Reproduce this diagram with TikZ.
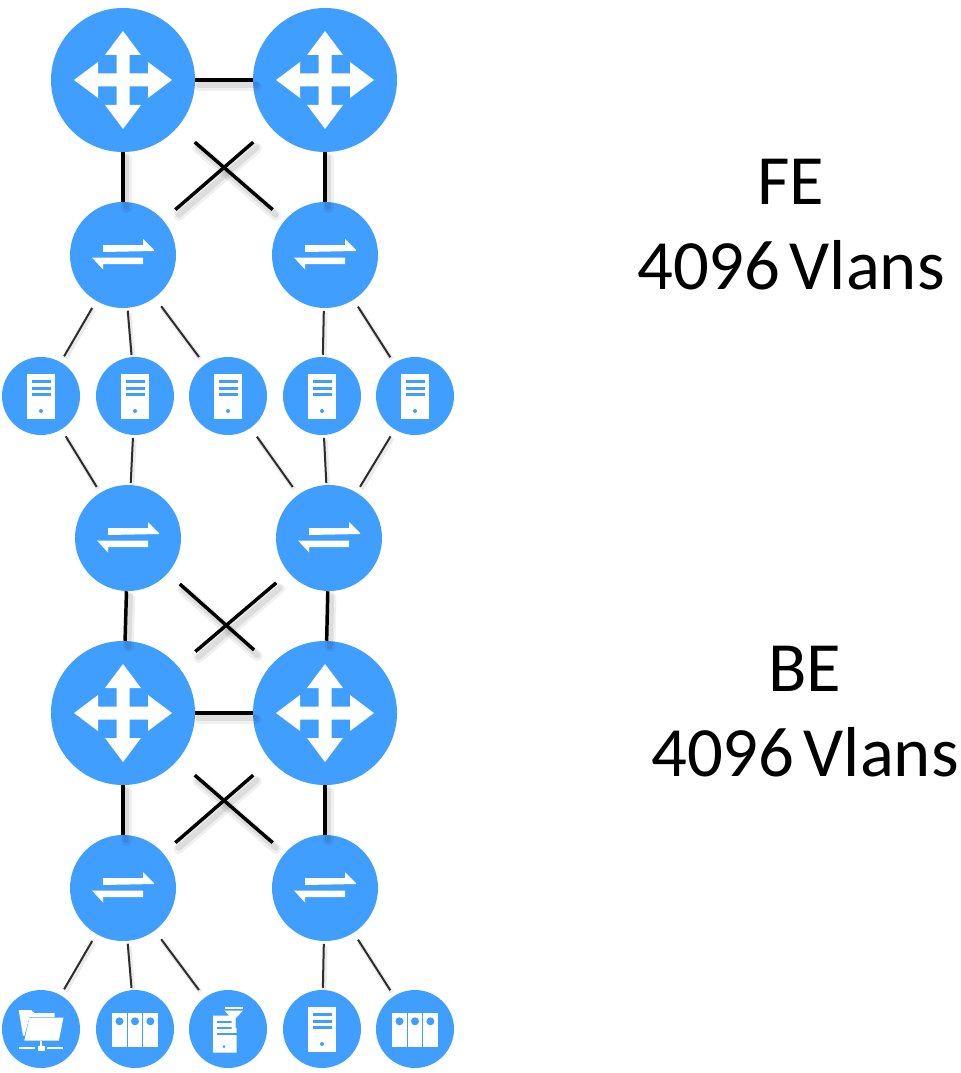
\documentclass[tikz,border=0pt]{standalone}
\usepackage{fontspec}
\setmainfont{Carlito}
\usetikzlibrary{calc}
\definecolor{netblue}{RGB}{64,158,255}
\definecolor{linkgrey}{RGB}{45,45,45}
\tikzset{
  x=0.75pt,y=-0.75pt,
  device/.style={circle,fill=netblue,inner sep=0pt,draw=none},
  routerdev/.style={device,minimum size=108pt},
  switchdev/.style={device,minimum size=79.5pt},
  hostdev/.style={device,minimum size=58.5pt},
  shade stroke/.style={preaction={draw=black,draw opacity=.06,line width=8pt,line cap=round,transform canvas={xshift=2.5pt,yshift=-4.5pt}},
                       preaction={draw=black,draw opacity=.08,line width=4.5pt,line cap=round,transform canvas={xshift=2.5pt,yshift=-4pt}}},
  thick link/.style={shade stroke,draw=black,line width=2.6pt},
  thin link/.style 2 args={draw=linkgrey,line width=1.5pt,shorten <=#1,shorten >=#2,
     preaction={draw=black,draw opacity=.08,line width=3.5pt,transform canvas={xshift=1pt,yshift=-1.5pt},shorten <=#1,shorten >=#2}},
  vlan label/.style={align=center,inner sep=0pt,font=\fontsize{53}{63.75}\selectfont,text=black},
  routericon/.pic={\fill[white] (0,-49)--(18,-25)--(6.5,-25)--(6.5,-6.5)--(25,-6.5)--(25,-18)--(49,0)--(25,18)--(25,6.5)--(6.5,6.5)--(6.5,25)--(18,25)--(0,49)--(-18,25)--(-6.5,25)--(-6.5,6.5)--(-25,6.5)--(-25,18)--(-49,0)--(-25,-18)--(-25,-6.5)--(-6.5,-6.5)--(-6.5,-25)--(-18,-25)--cycle;},
  switchicon/.pic={\fill[white] (-20,-10)--(20,-10)--(20,-16)--(31,-5)--(31,-4)--(-20,-3)--cycle;
     \fill[white] (-31,2.5)--(20,2.5)--(20,9)--(-20,9)--(-20,14.5)--cycle;},
  servericon/.pic={\fill[white] (-14,-22)rectangle(14,22.5);
     \foreach \yy in {-15,-8,-1.5}{\fill[netblue] (-9.5,\yy-1.5)rectangle(9.5,\yy+1.5);}
     \fill[netblue] (0,15) circle[radius=2];},
  storageicon/.pic={\foreach \xa/\xb in {-22.7/-8.3,-6.7/6.7,8.3/22.5}{
       \fill[white] (\xa,-16)rectangle(\xb,17.7);
       \fill[netblue] ({(\xa+\xb)/2},-7.7) circle[radius=4];}},
  foldericon/.pic={\fill[white] (-22.3,-19)--(-10,-19)--(-6.5,-16)--(13.5,-16)--(13.5,-12)--(-11.5,-12)--(-16.5,6.5)--(-18,6.5)--cycle;
     \fill[white] (-11.5,-11.5)--(22.5,-11.5)--(17.8,11.7)--(-16.7,11.7)--cycle;
     \fill[white] (-1,11.7)rectangle(1,17);
     \fill[white] (-3.5,16.5)rectangle(3.5,21.5);
     \fill[white] (-22,18.2)rectangle(-6,20.2);
     \fill[white] (6,18.2)rectangle(22,20.2);},
  filtericon/.pic={\fill[white] (-15,-13.5)--(7,-13.5)--(7,-1)--(8.5,-1)--(8.5,23.5)--(-15,23.5)--cycle;
     \foreach \yy/\xe in {-7/3.5,-1.5/3.5,4.5/8.5}{\fill[netblue] (-11,\yy-1)rectangle(\xe,\yy+1);}
     \fill[netblue] (-4,17.5) circle[radius=1.5];
     \fill[white] (-3.5,-22)rectangle(15,-20.5);
     \fill[white] (-3.5,-18.5)--(15,-18.5)--(7.5,-10.5)--(7.5,-1)--(3.5,1)--(3.5,-10.5)--cycle;},
}
\begin{document}
\begin{tikzpicture}
\useasboundingbox (0,0) rectangle (960,1073);
\fill[white] (0,0) rectangle (960,1073);

% devices
\node[routerdev] (r1) at (123,80) {};
\node[routerdev] (r2) at (325,80) {};
\node[switchdev] (s1) at (123,255) {};
\node[switchdev] (s2) at (325,255) {};
\node[hostdev] (h1) at (41,396) {};
\node[hostdev] (h2) at (135,396) {};
\node[hostdev] (h3) at (228,396) {};
\node[hostdev] (h4) at (322,396) {};
\node[hostdev] (h5) at (415,396) {};
\node[switchdev] (s3) at (128,538) {};
\node[switchdev] (s4) at (329,538) {};
\node[routerdev] (r3) at (123,713) {};
\node[routerdev] (r4) at (325,713) {};
\node[switchdev] (s5) at (123,888) {};
\node[switchdev] (s6) at (325,888) {};
\node[hostdev] (b1) at (41,1029) {};
\node[hostdev] (b2) at (135,1029) {};
\node[hostdev] (b3) at (228,1029) {};
\node[hostdev] (b4) at (322,1029) {};
\node[hostdev] (b5) at (415,1029) {};

% icons
\foreach \n in {r1,r2,r3,r4}{\pic at (\n) {routericon};}
\foreach \n in {s1,s2,s3,s4,s5,s6}{\pic at (\n) {switchicon};}
\foreach \n in {h1,h2,h3,h4,h5,b4}{\pic at (\n) {servericon};}
\foreach \n in {b2,b5}{\pic at (\n) {storageicon};}
\pic at (b1) {foldericon};
\pic at (b3) {filtericon};

% thick links
\draw[thick link] (r1) -- (r2);
\draw[thick link] (r1) -- (s1);
\draw[thick link] (r2) -- (s2);
\draw[thick link] (s3) -- (r3);
\draw[thick link] (s4) -- (r4);
\draw[thick link] (r3) -- (r4);
\draw[thick link] (r3) -- (s5);
\draw[thick link] (r4) -- (s6);

% crossed links
\draw[thick link,shorten <=17pt,shorten >=12pt] (r1) -- (s2);
\draw[thick link,shorten <=17pt,shorten >=12pt] (r2) -- (s1);
\draw[thick link,shorten <=12pt,shorten >=17pt] (s3) -- (r4);
\draw[thick link,shorten <=12pt,shorten >=17pt] (s4) -- (r3);
\draw[thick link,shorten <=17pt,shorten >=12pt] (r3) -- (s6);
\draw[thick link,shorten <=17pt,shorten >=12pt] (r4) -- (s5);

% thin links: near-vertical ones reach almost to the circles
\foreach \a/\b in {s1/h1,h1/s3,h5/s4,s5/b1,s2/h5,s6/b5}{
  \draw[thin link={6pt}{5pt}] (\a) -- (\b);
}
\foreach \a/\b in {s1/h3,s5/b3,h3/s4}{
  \draw[thin link={8pt}{7pt}] (\a) -- (\b);
}
\foreach \a/\b in {s1/h2,s2/h4,h2/s3,h4/s4,s5/b2,s6/b4}{
  \draw[thin link={2pt}{1.5pt}] (\a) -- (\b);
}

% labels
\node[vlan label] (fe) at (791,225) {FE\\4096\hspace{.13em}Vlans};
\node[vlan label] (be) at (805,712) {BE\\4096\hspace{.13em}Vlans};
\end{tikzpicture}
\end{document}
